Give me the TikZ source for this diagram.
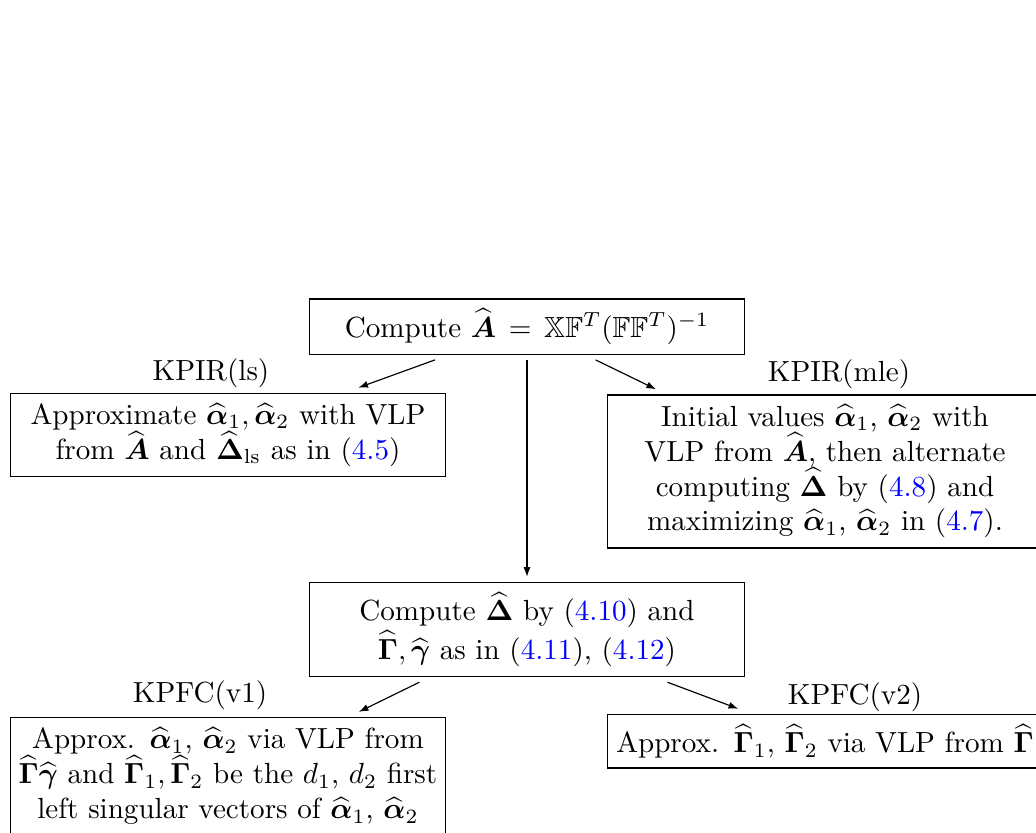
\documentclass[tikz,border=0pt]{standalone}
\usepackage{amsmath,amssymb}
\usetikzlibrary{arrows.meta}
\newcommand{\hb}[1]{\widehat{\boldsymbol{#1}}}
\newcommand{\eqnum}[1]{(\textcolor{blue}{#1})}

\begin{document}
\begin{tikzpicture}[x=0.3436pt, y=-0.3436pt,
    stepbox/.style={draw, thin, text width=5.2cm, align=center,
        inner xsep=0.8pt, outer sep=2pt},
    flow/.style={-{Latex[length=3.3pt,width=2.4pt]}}]
    % Page frame: the picture is cut off on the right and at the bottom
    \useasboundingbox (0,0) rectangle (1036,832);
    \clip (0,0) rectangle (1036,832);

    % First step
    \node[stepbox] (top) at (527, 326.5)
        {Compute $\hb{A} = \mathbb{X}\mathbb{F}^T(\mathbb{F}\mathbb{F}^T)^{-1}$};

    % KPIR branches
    \node[stepbox] (ls) at (228, 435)
        {Approximate $\hb{\alpha}_1, \hb{\alpha}_2$ with VLP\\
         from $\hb{A}$ and $\hb{\Delta}_{\rm ls}$ as in \eqnum{4.5}};
    \node[stepbox] (mle) at (825, 471.5)
        {Initial values $\hb{\alpha}_1$, $\hb{\alpha}_2$ with\\
         VLP from $\hb{A}$, then alternate\\
         computing $\hb{\Delta}$ by \eqnum{4.8} and\\
         maximizing $\hb{\alpha}_1$, $\hb{\alpha}_2$ in \eqnum{4.7}.};
    \node (lsname) at (211, 373) {KPIR(ls)};
    \node (mlename) at (839, 374) {KPIR(mle)};

    % Second step
    \node[stepbox] (mid) at (527, 629.5)
        {Compute $\hb{\Delta}$ by \eqnum{4.10} and\\
         $\hb{\Gamma}, \hb{\gamma}$ as in \eqnum{4.11}, \eqnum{4.12}};

    % KPFC branches
    \node[stepbox] (vone) at (228, 776)
        {Approx. $\hb{\alpha}_1$, $\hb{\alpha}_2$ via VLP from\\
         $\hb{\Gamma}\hb{\gamma}$ and $\hb{\Gamma}_1, \hb{\Gamma}_2$ be the $d_1$, $d_2$ first\\
         left singular vectors of $\hb{\alpha}_1$, $\hb{\alpha}_2$};
    \node[stepbox] (vtwo) at (825, 741.3)
        {Approx. $\hb{\Gamma}_1$, $\hb{\Gamma}_2$ via VLP from $\hb{\Gamma}$};
    \node (vonename) at (200, 695) {KPFC(v1)};
    \node (vtwoname) at (855, 697) {KPFC(v2)};

    % Arrows between the steps
    \foreach \a/\b in {top/ls, top/mle, top/mid, mid/vone, mid/vtwo}
        \draw[flow] (\a) -- (\b);
\end{tikzpicture}
\end{document}
